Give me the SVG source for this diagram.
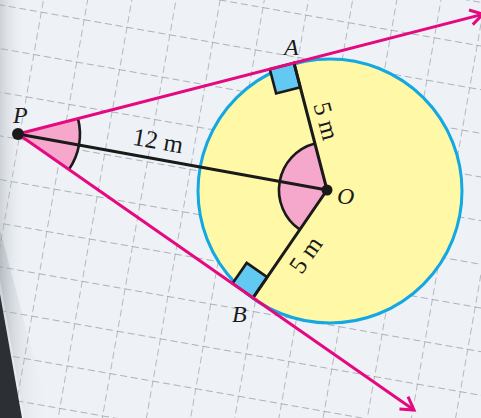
<svg xmlns="http://www.w3.org/2000/svg" width="481" height="418" viewBox="0 0 481 418">
  <defs>
    <pattern id="grid" patternUnits="userSpaceOnUse" width="43.5" height="43" patternTransform="rotate(10) translate(42.3 4.3)">
      <path d="M0 0 V43 M0 0 H43.5" fill="none" stroke="#959ba3" stroke-width="1.3" stroke-dasharray="7 3.75"/>
    </pattern>
    <linearGradient id="shade" x1="0" y1="0" x2="1" y2="0">
      <stop offset="0" stop-color="#9aa0a7" stop-opacity="0.7"/>
      <stop offset="1" stop-color="#eef2f7" stop-opacity="0"/>
    </linearGradient>
    <linearGradient id="shade2" x1="0" y1="0" x2="1" y2="0">
      <stop offset="0" stop-color="#7d838a" stop-opacity="0.8"/>
      <stop offset="1" stop-color="#eef2f7" stop-opacity="0"/>
    </linearGradient>
    <marker id="arrow" markerUnits="userSpaceOnUse" viewBox="-16 -10 18 20" refX="0" refY="0" markerWidth="18" markerHeight="20" orient="auto" overflow="visible">
      <path d="M-12.5 -7.5 L0 0 L-12.5 7.5" fill="none" stroke="#e5097f" stroke-width="3" stroke-linejoin="miter"/>
    </marker>
    <style>
      .pink { fill: none; stroke: #e5097f; stroke-width: 3; }
      .seg { fill: none; stroke: #1a1a1a; stroke-width: 3; stroke-linecap: round; }
      .sector { fill: #f5a8cb; stroke: none; }
      .arc { fill: none; stroke: #1a1a1a; stroke-width: 2.6; }
      .sq { fill: #62c9f2; stroke: #1a1a1a; stroke-width: 2.6; stroke-linejoin: miter; }
      .pt { font-family: "Liberation Serif", "Times New Roman", serif; font-style: italic; font-size: 24px; fill: #1a1a1a; }
      .len { font-family: "Liberation Serif", "Times New Roman", serif; font-size: 25px; fill: #1a1a1a; }
    </style>
  </defs>

  <!-- background -->
  <rect x="0" y="0" width="481" height="418" fill="#eef2f7"/>
  <rect x="0" y="0" width="481" height="418" fill="url(#grid)"/>
  <rect x="0" y="0" width="26" height="418" fill="url(#shade)" opacity="0.55"/>
  <path d="M0 280 L24 418 L50 418 L0 230 Z" fill="url(#shade2)" opacity="0.35"/>
  <path d="M0 294 L22 418 L0 418 Z" fill="#2c3035"/>

  <!-- circle -->
  <g id="circle">
    <circle cx="330" cy="191" r="132" fill="#fff8a6" stroke="#13a8e2" stroke-width="3"/>
  </g>

  <!-- angle at P -->
  <g id="angle-P">
    <path class="sector" d="M18 134 L78 118.6 A62 62 0 0 1 68.9 169.5 Z"/>
    <path class="arc" d="M78 118.6 A62 62 0 0 1 68.9 169.5"/>
  </g>

  <!-- angle at O -->
  <g id="angle-O">
    <path class="sector" d="M327 190 L299.9 229.6 A48 48 0 0 1 314.9 143.5 Z"/>
    <path class="arc" d="M299.9 229.6 A48 48 0 0 1 314.9 143.5"/>
  </g>

  <!-- right angles -->
  <g id="right-A">
    <path class="sq" d="M294 63 L269.8 69.2 L276.1 93.4 L300.3 87.2 Z"/>
  </g>
  <g id="right-B">
    <path class="sq" d="M253 297.8 L232.5 283.5 L246.7 262.9 L267.2 277.2 Z"/>
  </g>

  <!-- connectors -->
  <g id="connectors">
    <line class="seg" x1="18" y1="134" x2="327" y2="190"/>
    <line class="seg" x1="327" y1="190" x2="294" y2="63"/>
    <line class="seg" x1="327" y1="190" x2="253" y2="297.8"/>
    <line class="pink" x1="18" y1="134" x2="483" y2="14.2" marker-end="url(#arrow)"/>
    <line class="pink" x1="18" y1="134" x2="414" y2="410" marker-end="url(#arrow)"/>
  </g>

  <!-- points -->
  <g id="P">
    <circle cx="18" cy="134" r="6" fill="#1a1a1a"/>
    <text class="pt" x="13" y="123">P</text>
  </g>
  <g id="O">
    <circle cx="327" cy="190" r="5.5" fill="#1a1a1a"/>
    <text class="pt" x="337" y="204">O</text>
  </g>
  <g id="A">
    <text class="pt" x="284" y="55">A</text>
  </g>
  <g id="B">
    <text class="pt" x="232" y="322">B</text>
  </g>

  <!-- lengths -->
  <g id="labels">
    <text class="len" text-anchor="middle" transform="translate(158 141) rotate(10)" x="0" y="8">12 m</text>
    <text class="len" text-anchor="middle" transform="translate(326 121) rotate(75)" x="0" y="8">5 m</text>
    <text class="len" text-anchor="middle" transform="translate(306 255) rotate(-55)" x="0" y="8">5 m</text>
  </g>
</svg>
